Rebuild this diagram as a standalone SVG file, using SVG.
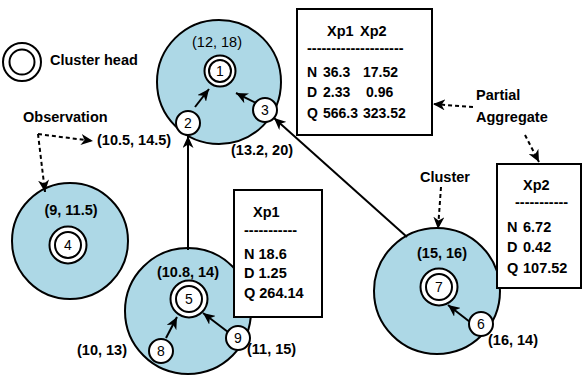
<svg xmlns="http://www.w3.org/2000/svg" width="582" height="381" viewBox="0 0 582 381">
<style>
text{font-family:"Liberation Sans",Arial,sans-serif;font-size:14.5px;fill:#000}
.b{font-weight:bold}
.t{font-size:14px}
.n{font-size:14px;text-anchor:middle}
.cl{fill:#ADD8E6;stroke:#000;stroke-width:2}
.w{fill:#fff;stroke:#000;stroke-width:2}
.box{fill:#fff;stroke:#000;stroke-width:2}
.ln{stroke:#000;stroke-width:2;fill:none;marker-end:url(#ah)}
.ds{stroke:#000;stroke-width:2;fill:none;stroke-dasharray:4 3;marker-end:url(#ah)}
</style>
<defs>
<marker id="ah" markerUnits="userSpaceOnUse" markerWidth="13" markerHeight="11" refX="12" refY="5.5" orient="auto">
<path d="M0,0 L12,5.5 L0,11 L3.5,5.5 z" fill="#000" stroke="none"/>
</marker>
</defs>
<rect width="582" height="381" fill="#fff"/>

<g id="legend">
<circle class="w" cx="22" cy="62" r="19"/>
<circle class="w" cx="22" cy="62" r="12.5"/>
<text class="b" x="50" y="65">Cluster head</text>
</g>

<g id="cluster1">
<circle class="cl" cx="219" cy="82" r="62"/>
<text x="217" y="47" text-anchor="middle">(12, 18)</text>
</g>
<g id="cluster4">
<circle class="cl" cx="70" cy="241" r="58"/>
<text class="b" x="71" y="215" text-anchor="middle">(9, 11.5)</text>
</g>
<g id="cluster5">
<circle class="cl" cx="188" cy="311" r="63"/>
<text class="b" x="188" y="277" text-anchor="middle">(10.8, 14)</text>
</g>
<g id="cluster7">
<circle class="cl" cx="437" cy="291" r="63"/>
<text class="b" x="442" y="258" text-anchor="middle">(15, 16)</text>
</g>

<g id="connectors">
<line class="ln" x1="195" y1="107" x2="209" y2="89"/>
<line class="ln" x1="260" y1="105" x2="236" y2="93"/>
<line class="ln" x1="188" y1="250" x2="188" y2="136"/>
<line class="ln" x1="407" y1="237" x2="274" y2="118"/>
<line class="ln" x1="166" y1="338" x2="177" y2="317"/>
<line class="ln" x1="228" y1="332" x2="203" y2="313"/>
<line class="ln" x1="470" y1="322" x2="448" y2="305"/>
<line class="ds" x1="38" y1="134" x2="93" y2="141"/>
<line class="ds" x1="38" y1="134" x2="45" y2="192"/>
<line class="ds" x1="473" y1="107" x2="433" y2="104"/>
<line class="ds" x1="525" y1="135" x2="539" y2="162"/>
<line class="ds" x1="441" y1="187" x2="438" y2="229"/>
</g>

<g id="node1">
<circle class="w" cx="220" cy="71" r="15.5"/>
<circle class="w" cx="220" cy="71" r="11"/>
<text class="n" x="220" y="76">1</text>
</g>
<g id="node2">
<circle class="w" cx="188" cy="123" r="12"/>
<text class="n" x="188" y="128">2</text>
</g>
<g id="node3">
<circle class="w" cx="265" cy="110" r="12"/>
<text class="n" x="265" y="115">3</text>
</g>
<g id="node4">
<circle class="w" cx="68" cy="245" r="18.5"/>
<circle class="w" cx="68" cy="245" r="13"/>
<text class="n" x="68" y="250">4</text>
</g>
<g id="node5">
<circle class="w" cx="189" cy="299" r="18.5"/>
<circle class="w" cx="189" cy="299" r="13"/>
<text class="n" x="189" y="304">5</text>
</g>
<g id="node7">
<circle class="w" cx="439" cy="287" r="18.5"/>
<circle class="w" cx="439" cy="287" r="13"/>
<text class="n" x="439" y="292">7</text>
</g>
<g id="node8">
<circle class="w" cx="161" cy="351" r="12"/>
<text class="n" x="161" y="356">8</text>
</g>
<g id="node9">
<circle class="w" cx="238" cy="338" r="12"/>
<text class="n" x="238" y="343">9</text>
</g>
<g id="node6">
<circle class="w" cx="481" cy="324" r="12"/>
<text class="n" x="481" y="329">6</text>
</g>

<g id="labels">
<text class="b" x="23" y="122">Observation</text>
<text class="b" x="97" y="145">(10.5, 14.5)</text>
<text class="b" x="231" y="155">(13.2, 20)</text>
<text class="b" x="77" y="355">(10, 13)</text>
<text class="b" x="247" y="354">(11, 15)</text>
<text class="b" x="488" y="345">(16, 14)</text>
<text class="b" x="420" y="182">Cluster</text>
<text class="b" x="476" y="100">Partial</text>
<text class="b" x="476" y="122">Aggregate</text>
</g>

<g id="box1">
<rect class="box" x="297" y="9" width="135" height="126"/>
<text class="b" y="36"><tspan x="327">Xp1</tspan><tspan x="360">Xp2</tspan></text>
<text class="b" x="307" y="53">--------------------</text>
<text class="b t" y="77"><tspan x="307">N</tspan><tspan x="323">36.3</tspan><tspan x="363">17.52</tspan></text>
<text class="b t" y="97"><tspan x="307">D</tspan><tspan x="323">2.33</tspan><tspan x="366">0.96</tspan></text>
<text class="b t" y="118"><tspan x="307">Q</tspan><tspan x="323">566.3</tspan><tspan x="363">323.52</tspan></text>
</g>

<g id="box2">
<rect class="box" x="234" y="190" width="88" height="127"/>
<text class="b" x="253" y="217">Xp1</text>
<text class="b" x="244" y="235">-----------</text>
<text class="b" x="244" y="259">N 18.6</text>
<text class="b" x="244" y="278">D 1.25</text>
<text class="b" x="244" y="298">Q 264.14</text>
</g>

<g id="box3">
<rect class="box" x="497" y="164" width="84" height="124"/>
<text class="b" x="523" y="190">Xp2</text>
<text class="b" x="515" y="207">-----------</text>
<text class="b" y="232"><tspan x="507">N</tspan><tspan x="523">6.72</tspan></text>
<text class="b" y="252"><tspan x="507">D</tspan><tspan x="523">0.42</tspan></text>
<text class="b" y="273"><tspan x="507">Q</tspan><tspan x="523">107.52</tspan></text>
</g>
</svg>
